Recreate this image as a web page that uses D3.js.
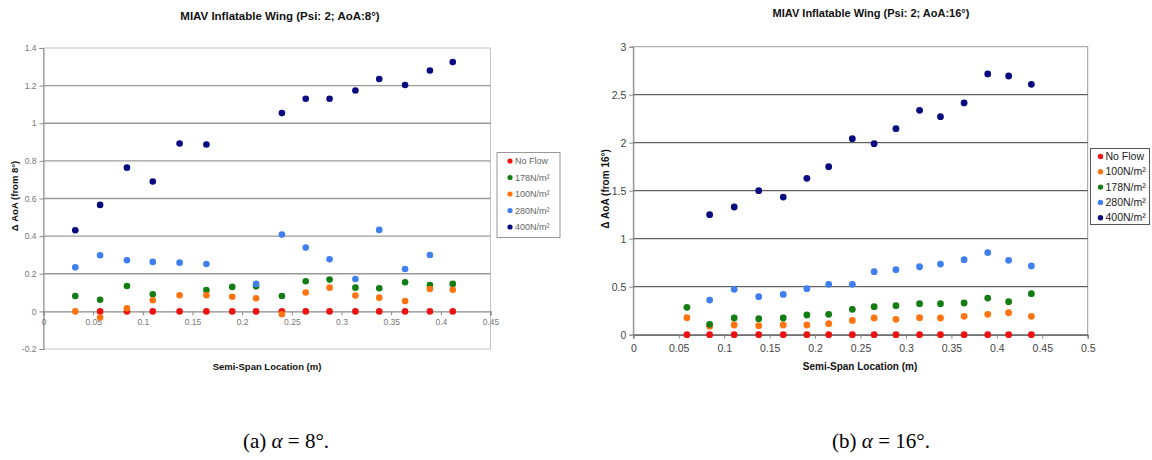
<!DOCTYPE html>
<html><head><meta charset="utf-8">
<script src="https://cdn.jsdelivr.net/npm/d3@7"></script>
<style>body{margin:0;background:#fff}svg{display:block}</style>
</head><body>
<svg id="c" width="1152" height="460"></svg>
<script>
// ---------- Data: chart (a) AoA 8° ----------
const spanA = [0.032,0.057,0.084,0.110,0.137,0.164,0.190,0.214,0.240,0.264,0.288,0.314,0.338,0.364,0.389,0.412];
const noFlowA = [null,0,0,0,0,0,0,0,0,0,0,0,0,0,0,0];
const n178A = [0.082,0.062,0.135,0.091,null,0.114,0.130,0.133,0.082,0.160,0.169,0.126,0.123,0.155,0.140,0.146];
const n100A = [0.000,-0.033,0.016,0.059,0.086,0.086,0.078,0.070,-0.015,0.100,0.126,0.084,0.073,0.055,0.119,0.115];
const n280A = [0.234,0.298,0.272,0.263,0.259,0.252,null,0.146,0.408,0.339,0.277,0.172,0.433,0.225,0.300,null];
const n400A = [0.431,0.566,0.764,0.690,0.892,0.887,null,null,1.054,1.130,1.130,1.174,1.235,1.203,1.280,1.325];
const yTicksA = [-0.2,0,0.2,0.4,0.6,0.8,1,1.2,1.4];
const xTicksA = [0,0.05,0.1,0.15,0.2,0.25,0.3,0.35,0.4,0.45];

// ---------- Data: chart (b) AoA 16° ----------
const spanB = [0.059,0.084,0.111,0.138,0.165,0.191,0.215,0.241,0.265,0.289,0.315,0.338,0.364,0.390,0.413,0.438];
const noFlowB = [0,0,0,0,0,0,0,0,0,0,0,0,0,0,0,0];
const n100B = [0.177,0.087,0.101,0.094,0.101,0.101,0.115,0.149,0.174,0.160,0.177,0.174,0.191,0.212,0.229,0.191];
const n178B = [0.285,0.108,0.174,0.167,0.174,0.205,0.212,0.264,0.292,0.302,0.323,0.323,0.330,0.382,0.344,0.427];
const n280B = [null,0.361,0.473,0.396,0.420,0.479,0.525,0.525,0.656,0.677,0.708,0.736,0.781,0.854,0.775,0.716];
const n400B = [null,1.250,1.330,1.500,1.434,1.629,1.750,2.042,1.990,2.146,2.337,2.271,2.414,2.716,2.695,2.608];
const yTicksB = [0,0.5,1,1.5,2,2.5,3];
const xTicksB = [0,0.05,0.1,0.15,0.2,0.25,0.3,0.35,0.4,0.45,0.5];

const colors = {"No Flow":"#ee1111","178N/m²":"#127d12","100N/m²":"#ff7410","280N/m²":"#3f7ff0","400N/m²":"#0a0a80"};

const svg = d3.select("#c");
const FONT = "Liberation Sans, Arial, sans-serif";

function drawChart(o){
  const g = svg.append("g");
  const x = d3.scaleLinear().domain(o.xDomain).range([o.left,o.right]);
  const y = d3.scaleLinear().domain(o.yDomain).range([o.bottom,o.top]);
  g.append("rect").attr("x",o.left).attr("y",o.top).attr("width",o.right-o.left).attr("height",o.bottom-o.top)
    .attr("fill","#fff").attr("stroke",o.borderColor).attr("stroke-width",1);
  g.append("g").selectAll("line").data(o.yTicks.filter(t=>t!==o.yDomain[0] && t!==o.yDomain[1] && t!==0)).join("line")
    .attr("x1",o.left).attr("x2",o.right).attr("y1",d=>y(d)).attr("y2",d=>y(d))
    .attr("stroke",o.gridColor).attr("stroke-width",o.gridWidth);
  const ya = g.append("g").attr("transform",`translate(${o.left},0)`)
    .call(d3.axisLeft(y).tickValues(o.yTicks).tickSize(4).tickPadding(3).tickFormat(d=>String(d)));
  ya.select(".domain").attr("stroke",o.axisColor);
  ya.selectAll(".tick line").attr("stroke",o.axisColor);
  ya.selectAll("text").attr("font-family",FONT).attr("font-size",o.tickFont).attr("fill",o.tickColor);
  const xa = g.append("g").attr("transform",`translate(0,${y(0)})`)
    .call(d3.axisBottom(x).tickValues(o.xTicks).tickSize(4).tickPadding(o.xTickPad).tickFormat(d=>String(d)));
  xa.select(".domain").attr("stroke",o.zeroColor).attr("stroke-width",o.zeroWidth);
  xa.selectAll(".tick line").attr("stroke",o.axisColor);
  xa.selectAll("text").attr("font-family",FONT).attr("font-size",o.tickFont).attr("fill",o.tickColor);
  o.series.forEach(s=>{
    const pts = o.span.map((v,i)=>({x:v,y:s.values[i]})).filter(p=>p.y!==null);
    g.append("g").selectAll("circle").data(pts).join("circle")
      .attr("cx",d=>x(d.x)).attr("cy",d=>y(d.y)).attr("r",o.r).attr("fill",colors[s.name]);
  });
  g.append("text").attr("x",o.titleX).attr("y",o.titleY).attr("text-anchor","middle")
    .attr("font-family",FONT).attr("font-weight","bold").attr("font-size",o.titleFont).attr("fill","#111").text(o.title);
  g.append("text").attr("x",o.xLabelX).attr("y",o.xLabelY).attr("text-anchor","middle")
    .attr("font-family",FONT).attr("font-weight","bold").attr("font-size",o.labelFont).attr("fill","#111").text("Semi-Span Location (m)");
  g.append("text").attr("transform",`translate(${o.yLabelX},${o.yLabelY}) rotate(-90)`).attr("text-anchor","middle")
    .attr("font-family",FONT).attr("font-weight","bold").attr("font-size",o.labelFont).attr("fill","#111").text(o.yLabel);
  const L = o.legend;
  g.append("rect").attr("x",L.x).attr("y",L.y).attr("width",L.w).attr("height",L.h)
    .attr("fill","#fff").attr("stroke",L.stroke).attr("stroke-width",1);
  o.series.forEach((s,i)=>{
    const cy = L.y + L.first + i*L.step;
    g.append("circle").attr("cx",L.x+L.dotDx).attr("cy",cy).attr("r",L.r).attr("fill",colors[s.name]);
    g.append("text").attr("x",L.x+L.textDx).attr("y",cy).attr("dy","0.35em")
      .attr("font-family",FONT).attr("font-size",L.font).attr("fill",L.color).text(s.name);
  });
}

drawChart({
  xDomain:[0,0.45], yDomain:[-0.2,1.4], left:43.5, right:490.5, top:48, bottom:349,
  xTicks:xTicksA, yTicks:yTicksA, span:spanA, r:3.3,
  borderColor:"#c4c4c4", gridColor:"#9a9a9a", gridWidth:1.3, axisColor:"#8a8a8a", zeroColor:"#8a8a8a", zeroWidth:1.3,
  tickFont:"8.5px", tickColor:"#777", xTickPad:4,
  series:[{name:"No Flow",values:noFlowA},{name:"178N/m²",values:n178A},{name:"100N/m²",values:n100A},{name:"280N/m²",values:n280A},{name:"400N/m²",values:n400A}],
  title:"MIAV Inflatable Wing (Psi: 2; AoA:8°)", titleX:280, titleY:20, titleFont:"11.5px",
  xLabelX:267, xLabelY:370, labelFont:"9.5px",
  yLabel:"Δ AoA (from 8°)", yLabelX:18, yLabelY:196,
  legend:{x:497,y:152.5,w:63,h:85,first:8.5,step:16.5,dotDx:13,textDx:18,r:2.6,font:"9px",color:"#666",stroke:"#999"}
});

drawChart({
  xDomain:[0,0.5], yDomain:[0,3], left:633.3, right:1087.7, top:46.7, bottom:334.7,
  xTicks:xTicksB, yTicks:yTicksB, span:spanB, r:3.4,
  borderColor:"#9a9a9a", gridColor:"#3a3a3a", gridWidth:1, axisColor:"#8a8a8a", zeroColor:"#3a3a3a", zeroWidth:1,
  tickFont:"10.5px", tickColor:"#444", xTickPad:6,
  series:[{name:"No Flow",values:noFlowB},{name:"100N/m²",values:n100B},{name:"178N/m²",values:n178B},{name:"280N/m²",values:n280B},{name:"400N/m²",values:n400B}],
  title:"MIAV Inflatable Wing (Psi: 2; AoA:16°)", titleX:871, titleY:17, titleFont:"11px",
  xLabelX:860, xLabelY:370, labelFont:"10px",
  yLabel:"Δ AoA (from 16°)", yLabelX:609, yLabelY:189,
  legend:{x:1090.5,y:148.5,w:59,h:76,first:8,step:15.3,dotDx:10,textDx:15,r:2.7,font:"10.5px",color:"#222",stroke:"#555"}
});

function caption(cx, label, deg){
  const t = svg.append("text").attr("x",cx).attr("y",448).attr("text-anchor","middle")
    .attr("font-family","Liberation Serif, DejaVu Serif, serif").attr("font-size","21px").attr("fill","#000");
  t.append("tspan").text(label+" ");
  t.append("tspan").attr("font-style","italic").text("α");
  t.append("tspan").text(" = "+deg+"°.");
}
caption(286,"(a)","8");
caption(881,"(b)","16");
</script>
</body></html>
